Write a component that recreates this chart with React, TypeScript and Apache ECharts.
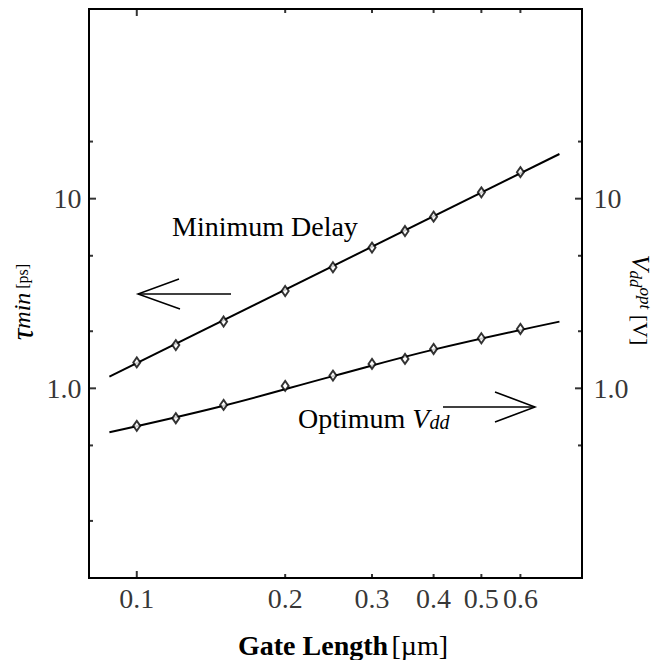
import React, { useEffect, useRef } from "react";
import * as echarts from "echarts";

const gateLength = [0.1, 0.12, 0.15, 0.2, 0.25, 0.3, 0.35, 0.4, 0.5, 0.6];
const minDelay = [1.37, 1.69, 2.25, 3.26, 4.35, 5.52, 6.75, 8.04, 10.8, 13.8];
const optVdd = [0.634, 0.696, 0.818, 1.03, 1.167, 1.345, 1.429, 1.613, 1.837, 2.056];

const delayFitX = [0.088, 0.72];
const delayFitY = [1.153, 17.2];
const vddFitX = [0.088, 0.15, 0.25, 0.4, 0.72];
const vddFitY = [0.587, 0.81, 1.16, 1.6, 2.247];

const xTickValues = [0.1, 0.2, 0.3, 0.4, 0.5, 0.6];
const xTickLabels = ["0.1", "0.2", "0.3", "0.4", "0.5", "0.6"];
const xMajor = [0.1];
const yLeftTicks = [0.2, 0.5, 1, 2, 5, 10, 20];
const yRightTicks = [0.5, 1, 2, 5, 10, 20];
const yMajor = [1, 10];
const yTickLabelValues = [1, 10];
const yTickLabels = ["1.0", "10"];

const X_MIN = 0.08;
const X_MAX = 0.8;
const Y_MIN = 0.1;
const Y_MAX = 100;

const FONT = "'Liberation Serif', 'Times New Roman', serif";

export default function App() {
  const ref = useRef<HTMLDivElement>(null);
  useEffect(() => {
    const chart = echarts.init(ref.current!, null, { renderer: "svg" });
    const tickSeries = (data: number[][], isX: boolean, side: number, majors: number[]) => ({
      type: "scatter",
      silent: true,
      clip: false,
      z: 5,
      data: data.map((d) => {
        const v = isX ? d[0] : d[1];
        const len = majors.includes(v) ? 7 : 4;
        return {
          value: d,
          symbolSize: isX ? [2, len] : [len, 2],
          symbolOffset: isX ? [0, side * len / 2] : [side * len / 2, 0],
        };
      }),
      symbol: "rect",
      itemStyle: { color: "#000" },
      yAxisIndex: 0,
    });
    const labelSeries = (data: number[][], labels: string[], position: string, distance: number) => ({
      type: "scatter",
      silent: true,
      clip: false,
      z: 5,
      symbol: "circle",
      symbolSize: 1,
      itemStyle: { color: "rgba(0,0,0,0)" },
      data,
      label: {
        show: true,
        position,
        distance,
        formatter: (p: any) => labels[p.dataIndex],
        fontFamily: FONT,
        fontSize: 28,
        color: "#000",
      },
    });
    chart.setOption({
      animation: false,
      backgroundColor: "#fff",
      grid: {
        left: 89,
        top: 9,
        right: 79,
        bottom: 82,
        show: true,
        borderColor: "#000",
        borderWidth: 2,
        backgroundColor: "transparent",
      },
      xAxis: {
        type: "log",
        logBase: 10,
        min: X_MIN,
        max: X_MAX,
        axisLine: { show: false },
        axisTick: { show: false },
        axisLabel: { show: false },
        splitLine: { show: false },
      },
      yAxis: [
        {
          type: "log",
          logBase: 10,
          min: Y_MIN,
          max: Y_MAX,
          axisLine: { show: false },
          axisTick: { show: false },
          axisLabel: { show: false },
          splitLine: { show: false },
        },
        {
          type: "log",
          logBase: 10,
          min: Y_MIN,
          max: Y_MAX,
          position: "right",
          axisLine: { show: false },
          axisTick: { show: false },
          axisLabel: { show: false },
          splitLine: { show: false },
        },
      ],
      series: [
        {
          name: "Minimum Delay fit",
          type: "line",
          data: delayFitX.map((x, i) => [x, delayFitY[i]]),
          showSymbol: false,
          lineStyle: { color: "#000", width: 2 },
          yAxisIndex: 0,
          silent: true,
        },
        {
          name: "Optimum Vdd fit",
          type: "line",
          data: vddFitX.map((x, i) => [x, vddFitY[i]]),
          showSymbol: false,
          smooth: 0.4,
          lineStyle: { color: "#000", width: 2 },
          yAxisIndex: 1,
          silent: true,
        },
        {
          name: "Minimum Delay",
          type: "scatter",
          data: gateLength.map((x, i) => [x, minDelay[i]]),
          symbol: "diamond",
          symbolSize: [7, 10],
          itemStyle: { color: "#fff", borderColor: "#000", borderWidth: 2 },
          yAxisIndex: 0,
          z: 4,
        },
        {
          name: "Optimum Vdd",
          type: "scatter",
          data: gateLength.map((x, i) => [x, optVdd[i]]),
          symbol: "diamond",
          symbolSize: [7, 10],
          itemStyle: { color: "#fff", borderColor: "#000", borderWidth: 2 },
          yAxisIndex: 1,
          z: 4,
        },
        tickSeries(xTickValues.map((v) => [v, Y_MIN]), true, -1, xMajor),
        tickSeries(xTickValues.map((v) => [v, Y_MAX]), true, 1, xMajor),
        tickSeries(yLeftTicks.map((v) => [X_MIN, v]), false, 1, yMajor),
        tickSeries(yRightTicks.map((v) => [X_MAX, v]), false, -1, yMajor),
        labelSeries(xTickValues.map((v) => [v, Y_MIN]), xTickLabels, "bottom", 6),
        labelSeries(yTickLabelValues.map((v) => [X_MIN, v]), yTickLabels, "left", 7),
        labelSeries(yTickLabelValues.map((v) => [X_MAX, v]), yTickLabels, "right", 11),
      ],
      graphic: [
        {
          type: "text",
          left: 172,
          top: 212,
          style: { text: "Minimum Delay", font: `28px ${FONT}`, fill: "#000" },
        },
        {
          type: "text",
          left: 298,
          top: 404,
          style: {
            text: "Optimum {i|V}{s|dd}",
            font: `28px ${FONT}`,
            fill: "#000",
            rich: {
              i: { fontFamily: FONT, fontSize: 28, fontStyle: "italic", fill: "#000" },
              s: { fontFamily: FONT, fontSize: 20, fontStyle: "italic", fill: "#000", padding: [8, 0, 0, 0] },
            },
          },
        },
        {
          type: "line",
          shape: { x1: 138, y1: 294, x2: 231, y2: 294 },
          style: { stroke: "#000", lineWidth: 1.5 },
        },
        {
          type: "polyline",
          shape: { points: [[179, 279], [138, 294], [180, 309]] },
          style: { stroke: "#000", lineWidth: 1.5, fill: null },
        },
        {
          type: "line",
          shape: { x1: 443, y1: 407, x2: 535, y2: 407 },
          style: { stroke: "#000", lineWidth: 1.5 },
        },
        {
          type: "polyline",
          shape: { points: [[495, 392], [535, 407], [495, 422]] },
          style: { stroke: "#000", lineWidth: 1.5, fill: null },
        },
        {
          type: "text",
          x: 22,
          y: 302,
          rotation: Math.PI / 2,
          style: {
            text: "{t|τ}{m|min}{p| [ps]}",
            align: "center",
            verticalAlign: "middle",
            rich: {
              t: { fontFamily: FONT, fontSize: 32, fontStyle: "italic", fill: "#000" },
              m: { fontFamily: FONT, fontSize: 24, fontStyle: "italic", fill: "#000" },
              p: { fontFamily: FONT, fontSize: 16, fill: "#000" },
            },
          },
        },
        {
          type: "text",
          x: 640,
          y: 300,
          rotation: -Math.PI / 2,
          style: {
            text: "{v|V}{d|dd}{o|opt}{p| [V]}",
            align: "center",
            verticalAlign: "middle",
            rich: {
              v: { fontFamily: FONT, fontSize: 26, fontStyle: "italic", fill: "#000" },
              d: { fontFamily: FONT, fontSize: 17, fontStyle: "italic", fill: "#000", padding: [10, 0, 0, 0] },
              o: { fontFamily: FONT, fontSize: 17, fontStyle: "italic", fill: "#000", padding: [0, 0, 10, 0] },
              p: { fontFamily: FONT, fontSize: 22, fill: "#000" },
            },
          },
        },
        {
          type: "text",
          x: 343,
          y: 645,
          style: {
            text: "{b|Gate Length} {r|[µm]}",
            align: "center",
            verticalAlign: "middle",
            rich: {
              b: { fontFamily: FONT, fontSize: 28, fontWeight: "bold", fill: "#000" },
              r: { fontFamily: FONT, fontSize: 28, fill: "#000" },
            },
          },
        },
      ],
    });
    return () => chart.dispose();
  }, []);
  return (
    <div
      ref={ref}
      style={{ position: "fixed", left: 0, top: 0, width: 661, height: 660 }}
    />
  );
}
